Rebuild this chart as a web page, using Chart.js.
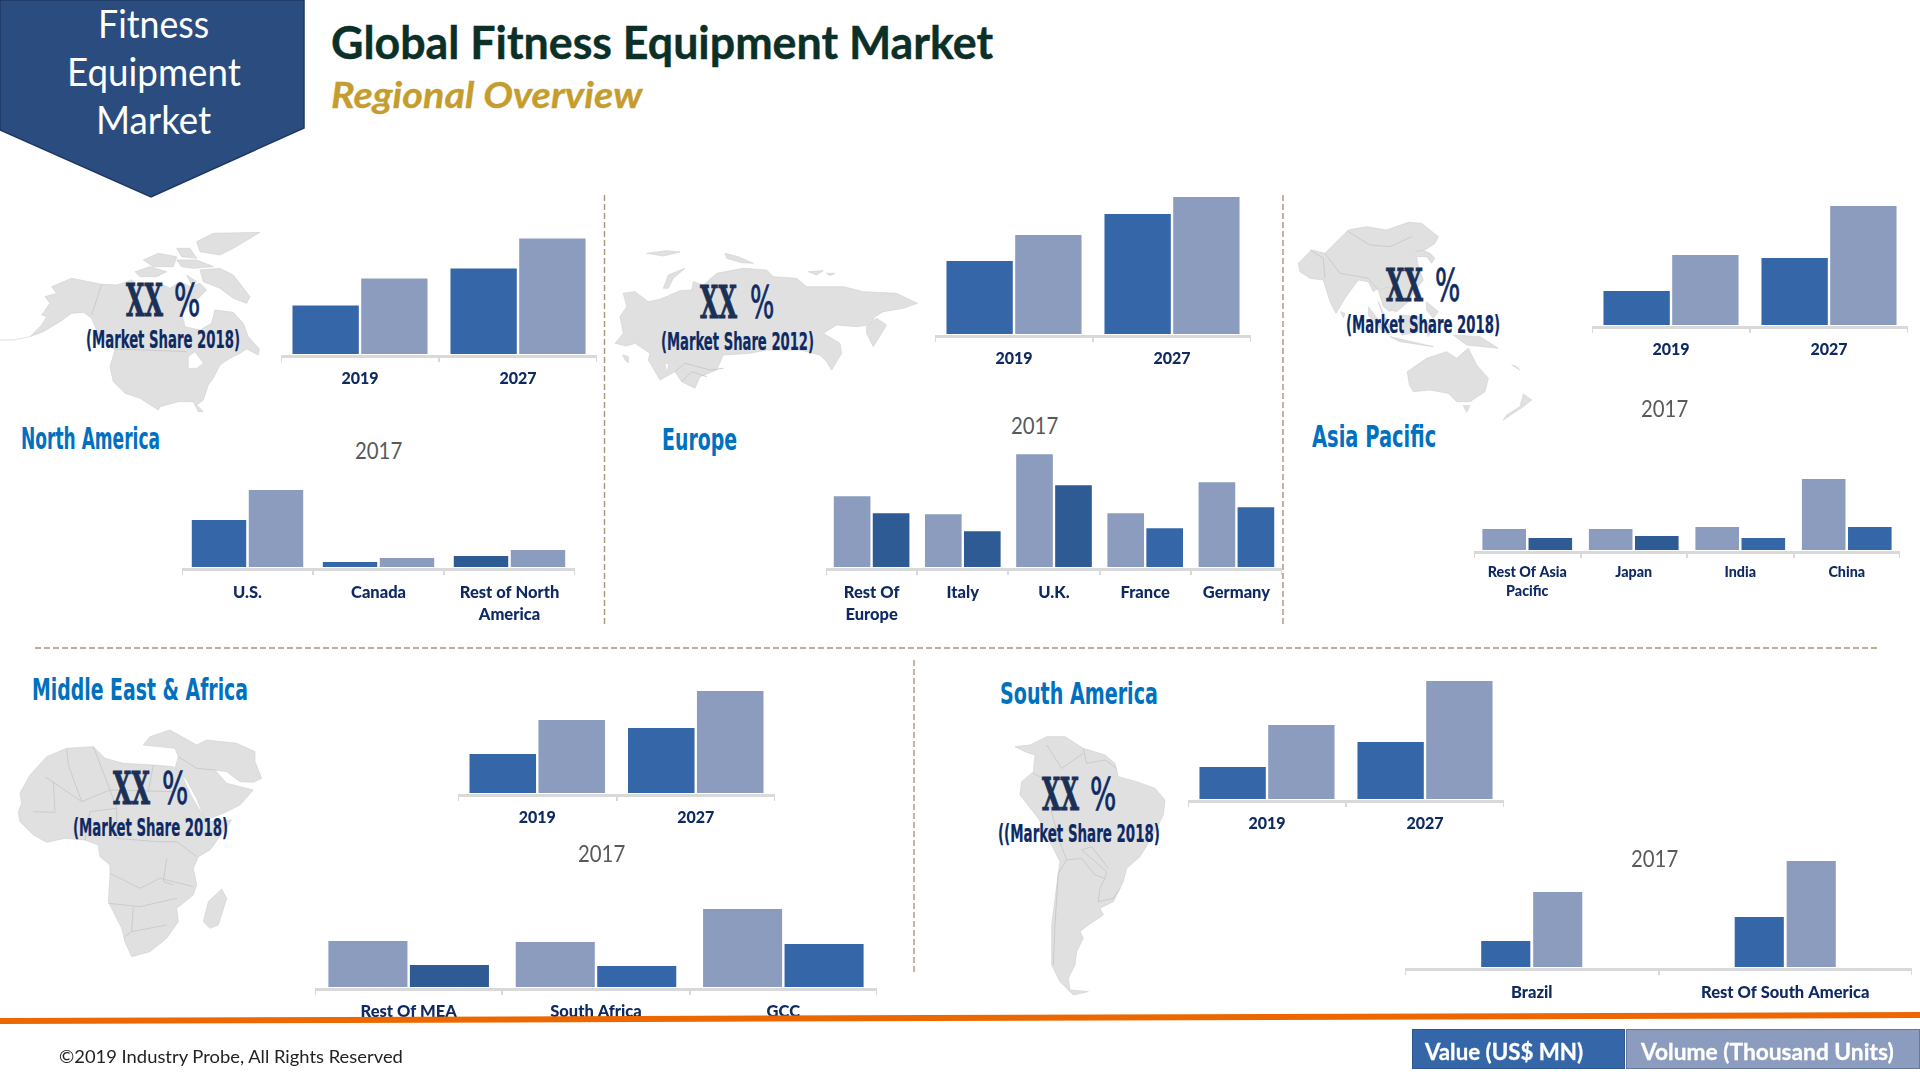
<!DOCTYPE html>
<html>
<head>
<meta charset="utf-8">
<title>Global Fitness Equipment Market</title>
<script src="https://cdn.jsdelivr.net/npm/chart.js@4"></script>
<style>
    html, body { margin: 0; padding: 0; background: #fff; }
    #page { position: relative; width: 1920px; height: 1080px; overflow: hidden; background: #fff; font-family: Lato, sans-serif; }
    #page svg { position: absolute; left: 0; top: 0; }
    #page canvas { position: absolute; }
    .txt { position: absolute; white-space: nowrap; transform-origin: left center; line-height: 1; }
    .key { position: absolute; box-sizing: border-box; border: 1px solid rgba(31, 56, 100, 0.35); }
    .borders polyline { fill: none; stroke: #c6c6c6; stroke-width: 2.5; }
    .water { fill: #fff; stroke: #d0d0d0; stroke-width: 1.5; }
</style>
</head>
<body>
<div id="page">
    <svg id="art" width="1920" height="1080">
        <!-- maps -->
        <g fill="#e0e0e0" stroke="#d2d2d2" stroke-width="2">
            <!-- North America -->
            <g transform="translate(0,225) scale(0.3333)">
                <polygon points="155,185 215,160 305,178 350,180 395,165 420,185 480,175 510,190 540,170 570,185 600,175 620,195 600,215 570,235 545,265 555,305 600,315 635,295 645,255 700,262 730,295 745,335 778,372 775,390 740,372 720,385 690,400 660,420 640,460 625,480 610,525 590,540 610,560 595,560 580,530 535,530 480,545 475,555 420,520 375,505 340,470 330,425 345,375 300,340 275,280 250,262 215,265 180,290 130,320 90,335 125,300 140,275 125,270 150,235 135,215 170,205"/>
                <polygon points="600,135 660,130 700,150 750,215 740,235 700,220 660,190 610,170"/>
                <polygon points="590,50 640,25 780,22 700,70 660,90 600,80"/>
                <polygon points="430,105 475,85 530,95 520,125 460,125"/>
                <polygon points="405,140 450,125 500,140 470,155 420,155"/>
                <polygon points="530,70 570,70 590,100 545,95"/>
                <polygon points="530,105 590,105 640,125 580,130 545,125"/>
                <polygon points="560,150 590,170 575,180"/>
                <polygon class="water" points="565,395 585,380 610,415 590,430 565,430"/>
                <polyline points="0,345 40,345 90,335" fill="none"/>
                <g class="borders">
                    <polyline points="305,178 275,270"/>
                    <polyline points="345,372 560,380"/>
                </g>
            </g>
            <!-- Russia and Europe -->
            <g transform="translate(610,240) scale(0.3333)">
                <polygon points="40,160 75,155 115,185 150,178 210,152 245,150 250,125 280,135 320,100 400,85 470,90 490,110 560,115 590,140 700,140 760,155 860,160 922,190 880,205 820,215 795,230 780,255 740,260 680,255 640,280 690,310 695,340 665,390 650,365 630,345 570,330 470,330 420,340 340,345 320,390 270,410 255,445 215,425 195,395 150,420 115,360 120,340 75,310 50,318 15,310 40,280 30,230 50,200"/>
                <polygon points="770,260 800,235 830,255 790,320 770,280"/>
                <polygon points="160,145 175,105 225,85 190,115 175,145"/>
                <polygon points="110,40 170,32 210,36 160,48"/>
                <polygon points="345,40 385,50 430,70 395,68 350,55"/>
                <polygon points="595,95 640,92 620,105"/>
                <polygon points="650,100 675,100 660,107"/>
                <polygon points="38,345 55,350 55,368 45,360"/>
                <polygon class="water" points="165,370 176,372 170,400"/>
                <g class="borders">
                    <polyline points="195,395 225,370 300,390 340,385"/>
                    <polyline points="215,425 245,395 290,410"/>
                </g>
            </g>
            <!-- Asia Pacific -->
            <g transform="translate(1290,215) scale(0.3333)">
                <polygon points="25,145 65,105 105,115 135,85 175,45 230,35 290,45 355,22 395,25 445,65 435,85 405,105 375,110 395,105 420,115 435,130 425,145 410,125 380,125 385,155 400,195 380,220 355,260 320,290 300,285 280,250 265,220 250,230 235,200 205,195 190,215 165,250 138,295 120,260 100,195 60,190 30,170"/>
                <polygon points="265,225 300,215 320,260 300,290 280,275"/>
                <polygon points="265,260 300,340 285,320"/>
                <polygon points="235,275 300,360 270,340 235,300"/>
                <polygon points="152,290 165,295 160,308"/>
                <polygon points="300,365 430,395 330,380"/>
                <polygon points="330,300 385,305 390,350 335,360"/>
                <polygon points="400,320 430,330 415,365"/>
                <polygon points="410,260 445,290 430,310 410,285"/>
                <polygon points="490,360 570,365 625,400 530,390"/>
                <polygon points="665,450 690,465 680,455"/>
                <polygon points="352,470 410,430 470,410 500,430 535,400 560,450 595,490 585,530 540,560 500,560 475,535 420,525 370,530 358,510"/>
                <polygon points="520,572 540,572 530,592"/>
                <polygon points="700,537 725,555 700,575 640,615 650,600 690,575"/>
                <g class="borders">
                    <polyline points="175,50 240,90 300,95 365,65"/>
                    <polyline points="105,115 150,175 235,190"/>
                    <polyline points="60,105 100,130 105,190"/>
                    <polyline points="235,190 265,225"/>
                </g>
            </g>
            <!-- Middle East and Africa -->
            <g transform="translate(10,725) scale(0.3333)">
                <polygon points="30,205 60,150 110,95 170,70 250,65 285,100 340,115 430,120 490,125 515,150 545,215 575,265 600,290 665,285 640,320 600,375 565,395 550,430 560,480 550,510 500,550 505,590 470,640 420,680 365,695 345,650 335,610 295,530 300,450 300,420 270,395 265,360 225,345 165,340 110,352 70,330 30,290 25,260 35,235"/>
                <polygon points="495,130 505,95 495,70 400,60 420,35 480,15 560,60 590,45 680,55 735,80 735,110 755,160 730,172 690,170 650,140 615,135 650,175 690,185 730,195 690,240 640,265 585,285 560,220 530,165"/>
                <polygon points="635,492 650,520 625,600 600,610 580,590 595,530"/>
                <g class="borders">
                    <polyline points="105,155 215,230 300,195 490,200"/>
                    <polyline points="130,170 135,260"/>
                    <polyline points="300,195 320,250 320,340 440,350 500,350"/>
                    <polyline points="170,70 175,120 215,230"/>
                    <polyline points="250,65 275,130 300,195"/>
                    <polyline points="430,120 415,200"/>
                    <polyline points="500,350 560,395"/>
                    <polyline points="300,445 390,490 450,460 550,485"/>
                    <polyline points="295,535 390,545 500,520"/>
                    <polyline points="370,545 365,620 345,635"/>
                    <polyline points="365,620 470,600"/>
                    <polyline points="470,400 460,470 490,480"/>
                    <polyline points="225,345 240,260 320,250"/>
                    <polyline points="70,260 135,262"/>
                    <polyline points="505,95 560,130 615,135"/>
                </g>
            </g>
            <!-- South America -->
            <g transform="translate(1005,725) scale(0.3333)">
                <polygon points="30,65 75,60 125,35 180,35 235,70 300,90 330,115 340,155 395,170 450,190 480,225 475,270 445,330 405,395 365,430 355,470 325,530 285,550 295,570 250,600 225,620 235,640 215,680 210,720 190,760 195,795 250,800 205,810 165,770 140,720 140,600 160,445 165,410 100,280 45,210 50,170 85,140 90,90 60,80"/>
                <g class="borders">
                    <polyline points="125,60 170,130 235,85"/>
                    <polyline points="235,70 245,115 300,105 335,130"/>
                    <polyline points="85,145 125,165 135,240 160,340"/>
                    <polyline points="160,340 185,405 160,445 150,600 145,720"/>
                    <polyline points="185,405 230,400 270,450 300,460 305,440 230,375 260,365 310,430"/>
                    <polyline points="300,460 285,490 280,530 325,520 345,490"/>
                </g>
            </g>
        </g>
        <!-- header tag -->
        <polygon points="0,0 304,0 304,128 151,197 0,130" fill="#2a4c7f" stroke="#1f3864" stroke-width="1.5"/>
        <!-- dashed dividers -->
        <g stroke="#a6977b" stroke-width="1.4" stroke-dasharray="6 3" fill="none">
            <line x1="604.5" y1="195" x2="604.5" y2="627"/>
            <line x1="1283" y1="195" x2="1283" y2="627"/>
            <line x1="35" y1="648" x2="1878" y2="648"/>
            <line x1="914" y1="660" x2="914" y2="975"/>
        </g>
    </svg>
    <svg width="1920" height="1080" style="z-index:5">
        <polygon points="0,1018 1920,1012 1920,1018 0,1024" fill="#ec6700"/>
    </svg>
    <div class="key" style="left:1412px;top:1029px;width:213px;height:40px;background:#3566a7"></div>
    <div class="key" style="left:1626px;top:1029px;width:294px;height:40px;background:#8b9cbf"></div>
</div>

<script>
var yearLabels = ['2019', '2027'];

var naTopValue = [48.5, 85.5];
var naTopVolume = [75.5, 115.5];
var naCountries = ['U.S.', 'Canada', ['Rest of North', 'America']];
var naValue = [47, 5, 11];
var naVolume = [77, 9, 17];

var euTopValue = [73, 120];
var euTopVolume = [99, 137];
var euCountries = [['Rest Of', 'Europe'], 'Italy', 'U.K.', 'France', 'Germany'];
var euVolume = [70.7, 52.7, 112.7, 53.7, 84.7];
var euValue = [53.7, 35.7, 81.7, 38.7, 59.7];

var apTopValue = [34, 67];
var apTopVolume = [70, 119];
var apCountries = [['Rest Of Asia', 'Pacific'], 'Japan', 'India', 'China'];
var apVolume = [21, 21, 23, 71];
var apValue = [12, 14, 12, 23];

var meaTopValue = [39, 65];
var meaTopVolume = [73, 102];
var meaCountries = ['Rest Of MEA', 'South Africa', 'GCC'];
var meaVolume = [46, 45, 78];
var meaValue = [22, 21, 43];

var saTopValue = [32, 57];
var saTopVolume = [74, 118];
var saCountries = ['Brazil', 'Rest Of South America'];
var saValue = [26, 50];
var saVolume = [75, 106];

var BLUE = '#3566a7';
var DARK = '#2e5b94';
var LIGHT = '#8b9cbf';
var NAVY = '#0f2a62';
var AXIS = '#d9d9d9';
var page = document.getElementById('page');

function valueSet(data, colour) {
    return { label: 'Value (US$ MN)', data: data, backgroundColor: colour || BLUE };
}

function volumeSet(data) {
    return { label: 'Volume (Thousand Units)', data: data, backgroundColor: LIGHT };
}

function makeChart(o) {
    var canvas = document.createElement('canvas');
    var axisHeight = 70;
    var gap = 2; // white sliver between the bars and the axis line
    canvas.width = o.x1 - o.x0;
    canvas.height = o.yMax + gap + axisHeight;
    canvas.style.left = o.x0 + 'px';
    canvas.style.top = (o.base - o.yMax) + 'px';
    canvas.style.zIndex = 3;
    page.appendChild(canvas);

    o.datasets.forEach(function (d) {
        d.categoryPercentage = o.cat;
        d.barPercentage = o.bar;
    });

    return new Chart(canvas.getContext('2d'), {
        type: 'bar',
        data: { labels: o.labels, datasets: o.datasets },
        options: {
            responsive: false,
            animation: false,
            layout: { padding: 0 },
            plugins: { legend: { display: false }, title: { display: false }, tooltip: { enabled: false } },
            scales: {
                y: { display: false, min: -gap, max: o.yMax },
                x: {
                    afterFit: function (scale) { scale.height = axisHeight; },
                    border: { color: AXIS, width: 3 },
                    grid: { drawOnChartArea: false, color: AXIS, tickColor: AXIS, lineWidth: 2, tickLength: 6, offset: true },
                    ticks: {
                        autoSkip: false,
                        maxRotation: 0,
                        padding: o.pad,
                        color: NAVY,
                        font: { family: 'Lato', weight: '900', size: o.size, lineHeight: o.lineHeight }
                    }
                }
            }
        }
    });
}

// x = left edge, y = vertical centre, w = width the text has to fill
function addText(text, x, y, w, font, colour, stroke) {
    var el = document.createElement('div');
    el.className = 'txt';
    el.textContent = text;
    el.style.font = font;
    el.style.lineHeight = '1';
    el.style.color = colour;
    el.style.zIndex = 4;
    if (stroke) {
        el.style.webkitTextStroke = stroke + 'px ' + colour;
    }
    page.appendChild(el);
    el.style.left = x + 'px';
    el.style.top = (y - el.offsetHeight / 2) + 'px';
    if (w) {
        el.style.transform = 'scaleX(' + (w / el.offsetWidth) + ')';
    }
    return el;
}

// North America
makeChart({ x0: 281, x1: 597, base: 353.5, yMax: 130, labels: yearLabels, cat: 0.87, bar: 0.965, size: 16, pad: 6.5, lineHeight: 1.35,
    datasets: [valueSet(naTopValue), volumeSet(naTopVolume)] });
makeChart({ x0: 182, x1: 575, base: 566.5, yMax: 90, labels: naCountries, cat: 0.87, bar: 0.955, size: 16.5, pad: 6.5, lineHeight: 1.34,
    datasets: [valueSet(naValue, [BLUE, BLUE, DARK]), volumeSet(naVolume)] });

// Europe
makeChart({ x0: 935, x1: 1251, base: 334, yMax: 150, labels: yearLabels, cat: 0.87, bar: 0.965, size: 16, pad: 6.5, lineHeight: 1.35,
    datasets: [valueSet(euTopValue), volumeSet(euTopVolume)] });
makeChart({ x0: 826, x1: 1282, base: 566.7, yMax: 125, labels: euCountries, cat: 0.855, bar: 0.94, size: 16.5, pad: 6.5, lineHeight: 1.34,
    datasets: [volumeSet(euVolume), valueSet(euValue, [DARK, DARK, DARK, BLUE, BLUE])] });

// Asia Pacific
makeChart({ x0: 1592, x1: 1908, base: 325, yMax: 130, labels: yearLabels, cat: 0.87, bar: 0.965, size: 16, pad: 6.5, lineHeight: 1.35,
    datasets: [valueSet(apTopValue), volumeSet(apTopVolume)] });
makeChart({ x0: 1474, x1: 1900, base: 550, yMax: 85, labels: apCountries, cat: 0.866, bar: 0.945, size: 14.3, pad: 5, lineHeight: 1.32,
    datasets: [volumeSet(apVolume), valueSet(apValue, [DARK, DARK, BLUE, BLUE])] });

// Middle East & Africa
makeChart({ x0: 458, x1: 775, base: 793, yMax: 115, labels: yearLabels, cat: 0.87, bar: 0.965, size: 16, pad: 6.5, lineHeight: 1.35,
    datasets: [valueSet(meaTopValue), volumeSet(meaTopVolume)] });
makeChart({ x0: 315, x1: 877, base: 987, yMax: 90, labels: meaCountries, cat: 0.87, bar: 0.97, size: 16.5, pad: 6, lineHeight: 1.3,
    datasets: [volumeSet(meaVolume), valueSet(meaValue, [DARK, BLUE, BLUE])] });

// South America
makeChart({ x0: 1188, x1: 1504, base: 799, yMax: 130, labels: yearLabels, cat: 0.87, bar: 0.965, size: 16, pad: 6.5, lineHeight: 1.35,
    datasets: [valueSet(saTopValue), volumeSet(saTopVolume)] });
makeChart({ x0: 1405, x1: 1912, base: 967, yMax: 115, labels: saCountries, cat: 0.41, bar: 0.945, size: 16.5, pad: 6.5, lineHeight: 1.3,
    datasets: [valueSet(saValue), volumeSet(saVolume)] });

var NARROW = '"Liberation Sans Narrow", "DejaVu Sans Condensed", sans-serif';
var HEAD_BLUE = '#0070c0';
var XX_NAVY = '#1a3056';
var SHARE_NAVY = '#0d2a64';

addText('Global Fitness Equipment Market', 331, 42, 662, 'bold 45px Lato, sans-serif', '#0b3028', 0.4);
addText('Regional Overview', 331, 94, 311, 'italic bold 36px Lato, sans-serif', '#c59d2e', 0.3);
addText('Fitness', 98, 23, 111, '38px Lato, sans-serif', '#fff');
addText('Equipment', 66.5, 71, 174, '38px Lato, sans-serif', '#fff');
addText('Market', 96, 119, 115, '38px Lato, sans-serif', '#fff');

addText('North America', 21, 439, 139, 'bold 30px ' + NARROW, HEAD_BLUE);
addText('Europe', 662, 440, 75, 'bold 30px ' + NARROW, HEAD_BLUE);
addText('Asia Pacific', 1312, 436.5, 124, 'bold 30px ' + NARROW, HEAD_BLUE);
addText('Middle East & Africa', 32, 690, 216, 'bold 30px ' + NARROW, HEAD_BLUE);
addText('South America', 1000, 694, 158, 'bold 30px ' + NARROW, HEAD_BLUE);

function addShare(text, xxLeft, pctLeft, pctRight, xxY, shareLeft, shareRight, shareY) {
    addText('XX', xxLeft, xxY, 37, 'bold 45px "DejaVu Serif", serif', XX_NAVY, 1);
    addText('%', pctLeft, xxY, pctRight - pctLeft, '45px ' + NARROW, SHARE_NAVY, 0.7);
    addText(text, shareLeft, shareY, shareRight - shareLeft, 'bold 24px ' + NARROW, SHARE_NAVY, 0.2);
}
addShare('(Market Share 2018)', 126, 174, 200, 300, 86, 240, 340);
addShare('(Market Share 2012)', 700, 750, 774, 302.5, 661, 814, 342);
addShare('(Market Share 2018)', 1386, 1435, 1460, 285, 1346, 1500, 325);
addShare('(Market Share 2018)', 113, 162, 188, 788, 73, 228, 828);
addShare('((Market Share 2018)', 1042, 1090, 1116, 794, 998, 1160, 834);

var GREY = '#595959';
var YEAR_FONT = '22.5px Lato, sans-serif';
addText('2017', 355, 451, 47, YEAR_FONT, GREY);
addText('2017', 1011, 426.7, 47, YEAR_FONT, GREY);
addText('2017', 1641, 409.7, 47, YEAR_FONT, GREY);
addText('2017', 578, 854.7, 47, YEAR_FONT, GREY);
addText('2017', 1631, 859, 47, YEAR_FONT, GREY);

addText('Value (US$ MN)', 1425, 1051, 158, 'bold 23px Lato, sans-serif', '#fff', 0.3);
addText('Volume (Thousand Units)', 1641, 1051, 253, 'bold 23px Lato, sans-serif', '#fff', 0.3);
addText('©2019 Industry Probe, All Rights Reserved', 59, 1056, 344, '18px Lato, sans-serif', '#222');
</script>
</body>
</html>
